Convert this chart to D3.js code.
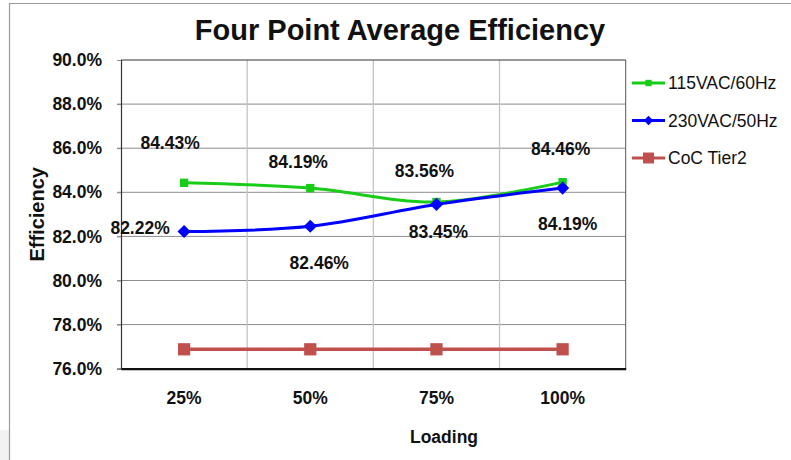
<!DOCTYPE html>
<html>
<head>
<meta charset="utf-8">
<script src="https://cdn.jsdelivr.net/npm/d3@7"></script>
<style>
  html, body { margin: 0; padding: 0; background: #fff; }
  svg { display: block; font-family: Arial, "Liberation Sans", sans-serif; }
</style>
</head>
<body>
<svg id="chart" width="791" height="460"></svg>
<script>
// Loading points on the x axis
const categories = ["25%", "50%", "75%", "100%"];
// Efficiency (%) per series
const eff115 = [84.43, 84.19, 83.56, 84.46];
const eff230 = [82.22, 82.46, 83.45, 84.19];
const cocTier2 = [76.88, 76.88, 76.88, 76.88];
const seriesNames = ["115VAC/60Hz", "230VAC/50Hz", "CoC Tier2"];
// Y axis ticks
const yTicks = [76, 78, 80, 82, 84, 86, 88, 90];

// Label placement offsets (px) relative to each point
const labelOffset115 = [[-14, -40], [-12, -26], [-12, -31], [-2, -33]];
const labelOffset230 = [[-44, -4], [9, 37], [2, 28], [5, 36]];

const svg = d3.select("#chart");
const W = 791, H = 460;
const m = { top: 60, right: 165.3, bottom: 91.3, left: 121 };

// Outer chart frame
svg.append("rect").attr("x", 0).attr("y", 430).attr("width", 9).attr("height", 30).attr("fill", "#f2f2f2");
svg.append("line").attr("x1", 9).attr("x2", W).attr("y1", 3.5).attr("y2", 3.5).attr("stroke", "#9a9a9a").attr("stroke-width", 1.2);
svg.append("line").attr("x1", 9.5).attr("x2", 9.5).attr("y1", 3).attr("y2", H).attr("stroke", "#9a9a9a").attr("stroke-width", 1.2);

const x = d3.scaleBand().domain(categories).range([m.left, W - m.right]).padding(0);
const y = d3.scaleLinear().domain([76, 90]).range([H - m.bottom, m.top]);
const cx = d => x(d) + x.bandwidth() / 2;

// Horizontal gridlines
svg.append("g").selectAll("line").data(yTicks.slice(1, -1)).join("line")
  .attr("x1", m.left - 4).attr("x2", W - m.right)
  .attr("y1", d => y(d)).attr("y2", d => y(d))
  .attr("stroke", "#8c8c8c").attr("stroke-width", 1);

// Vertical gridlines at category boundaries
svg.append("g").selectAll("line").data(categories.slice(1)).join("line")
  .attr("x1", d => x(d)).attr("x2", d => x(d))
  .attr("y1", m.top).attr("y2", H - m.bottom)
  .attr("stroke", "#c4c4c4").attr("stroke-width", 1.3);

// Plot frame
svg.append("line").attr("x1", m.left).attr("x2", W - m.right).attr("y1", m.top).attr("y2", m.top)
  .attr("stroke", "#333").attr("stroke-width", 1);
svg.append("line").attr("x1", W - m.right).attr("x2", W - m.right).attr("y1", m.top).attr("y2", H - m.bottom)
  .attr("stroke", "#555").attr("stroke-width", 1);

// Y axis
const yAxis = svg.append("g").attr("transform", `translate(${m.left},0)`)
  .call(d3.axisLeft(y).tickValues(yTicks).tickSize(4).tickPadding(15).tickFormat(d => d.toFixed(1) + "%"));
yAxis.select(".domain").attr("stroke", "#333").attr("stroke-width", 1.2);
yAxis.selectAll(".tick line").attr("stroke", "#8c8c8c");
yAxis.selectAll("text").attr("font-size", 17.5).attr("font-weight", "bold").attr("fill", "#111")
  .attr("font-family", "Arial, 'Liberation Sans', sans-serif");

// X axis
const xAxis = svg.append("g").attr("transform", `translate(0,${H - m.bottom})`)
  .call(d3.axisBottom(x).tickSize(0).tickPadding(23));
xAxis.select(".domain").attr("stroke", "#111").attr("stroke-width", 2.2);
xAxis.selectAll("text").attr("font-size", 17.5).attr("font-weight", "bold").attr("fill", "#111")
  .attr("font-family", "Arial, 'Liberation Sans', sans-serif");

// Titles
svg.append("text").attr("x", 400).attr("y", 40).attr("text-anchor", "middle")
  .attr("font-size", 29).attr("font-weight", "bold").attr("fill", "#111")
  .text("Four Point Average Efficiency");
svg.append("text").attr("x", 444).attr("y", 443).attr("text-anchor", "middle")
  .attr("font-size", 17.5).attr("font-weight", "bold").attr("fill", "#111").text("Loading");
svg.append("text").attr("transform", `translate(44,${(m.top + H - m.bottom) / 2}) rotate(-90)`)
  .attr("text-anchor", "middle").attr("font-size", 20).attr("font-weight", "bold").attr("fill", "#111")
  .text("Efficiency");

const line = d3.line().x((d, i) => cx(categories[i])).y(d => y(d)).curve(d3.curveCatmullRom.alpha(0.5));

const colors = ["#19cc19", "#0000ff", "#c0504d"];
const sq = (s) => d3.symbol().type(d3.symbolSquare).size(s);
const dia = (s) => d3.symbol().type(d3.symbolDiamond2).size(s);

// CoC Tier2
svg.append("path").attr("d", line(cocTier2)).attr("fill", "none").attr("stroke", colors[2]).attr("stroke-width", 3.5);
svg.append("g").selectAll("path").data(cocTier2).join("path")
  .attr("transform", (d, i) => `translate(${cx(categories[i])},${y(d)})`)
  .attr("d", sq(150)).attr("fill", colors[2]);

// 115VAC
svg.append("path").attr("d", line(eff115)).attr("fill", "none").attr("stroke", colors[0]).attr("stroke-width", 3);
svg.append("g").selectAll("path").data(eff115).join("path")
  .attr("transform", (d, i) => `translate(${cx(categories[i])},${y(d)})`)
  .attr("d", sq(70)).attr("fill", colors[0]);

// 230VAC
svg.append("path").attr("d", line(eff230)).attr("fill", "none").attr("stroke", colors[1]).attr("stroke-width", 3);
svg.append("g").selectAll("path").data(eff230).join("path")
  .attr("transform", (d, i) => `translate(${cx(categories[i])},${y(d)})`)
  .attr("d", dia(110)).attr("fill", colors[1]);

// Value labels
function labels(vals, offs) {
  svg.append("g").selectAll("text").data(vals).join("text")
    .attr("x", (d, i) => cx(categories[i]) + offs[i][0])
    .attr("y", (d, i) => y(d) + offs[i][1])
    .attr("text-anchor", "middle").attr("dominant-baseline", "central")
    .attr("font-size", 17.5).attr("font-weight", "bold").attr("fill", "#111")
    .text(d => d.toFixed(2) + "%");
}
labels(eff115, labelOffset115);
labels(eff230, labelOffset230);

// Legend
const lg = svg.append("g").attr("transform", "translate(632,83)");
const markers = [sq(40), dia(55), sq(120)];
seriesNames.forEach((name, i) => {
  const g = lg.append("g").attr("transform", `translate(0,${i * 37.5})`);
  g.append("line").attr("x1", 0).attr("x2", 33).attr("stroke", colors[i]).attr("stroke-width", 3);
  g.append("path").attr("transform", "translate(16.5,0)").attr("d", markers[i]).attr("fill", colors[i]);
  g.append("text").attr("x", 36).attr("y", 0).attr("dominant-baseline", "central")
    .attr("font-size", 17.5).attr("fill", "#111").text(name);
});
</script>
</body>
</html>
